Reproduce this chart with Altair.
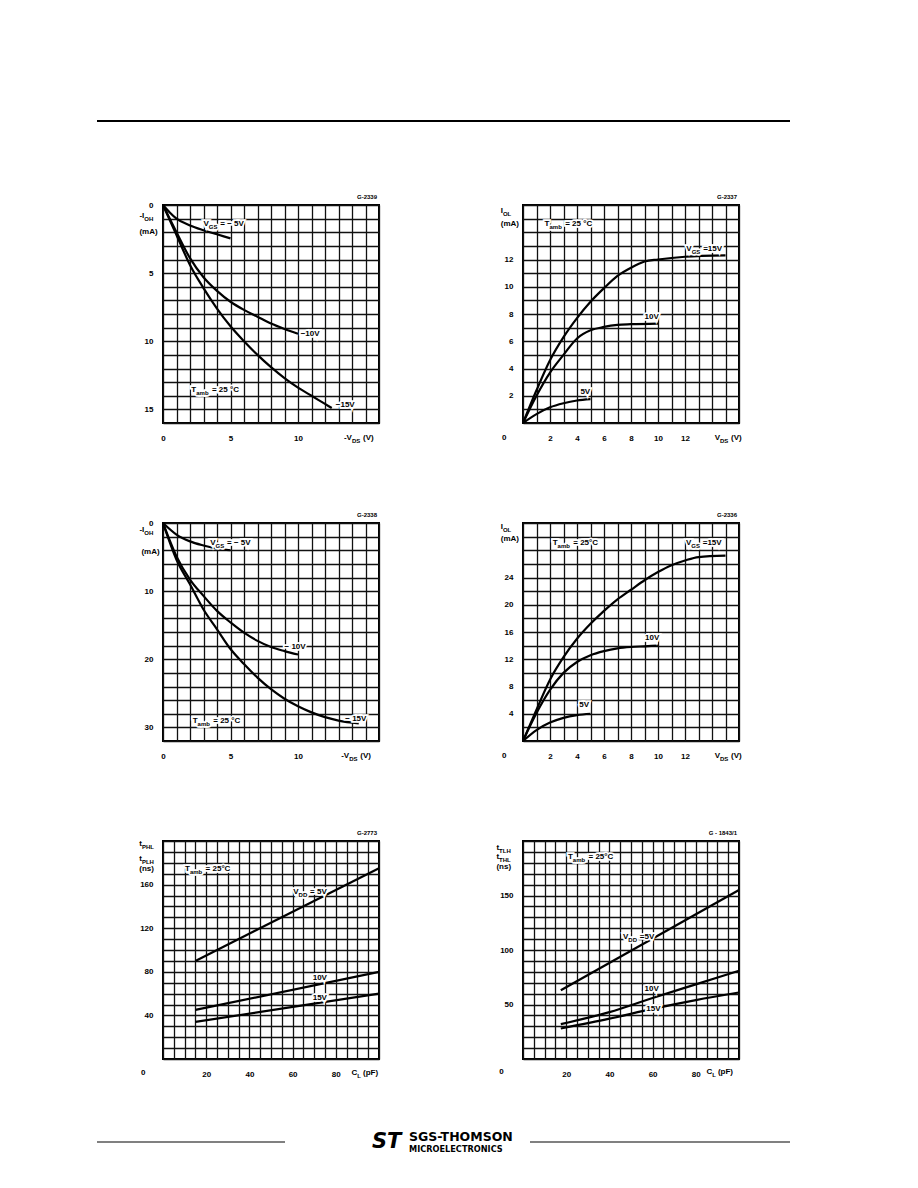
import re
import altair as alt
import pandas as pd

# ---------------- data ----------------
# Panel 1  G-2339 : -I_OH (mA) vs -V_DS (V)
p1_vds_5 = [0, 0.5, 1, 2, 3, 4, 5]
p1_ioh_5 = [0, 0.55, 1.0, 1.5, 1.85, 2.15, 2.45]
p1_vds_10 = [0, 1, 2, 3, 4, 5, 6, 7, 8, 9, 10]
p1_ioh_10 = [0, 2.0, 3.9, 5.3, 6.3, 7.1, 7.7, 8.2, 8.7, 9.1, 9.45]
p1_vds_15 = [0, 1, 2, 3, 4, 5, 6, 7, 8, 9, 10, 11, 12, 12.5]
p1_ioh_15 = [0, 2.2, 4.4, 6.1, 7.6, 8.9, 10.0, 11.0, 11.9, 12.7, 13.4, 14.0, 14.6, 14.9]

# Panel 2  G-2337 : I_OL (mA) vs V_DS (V)
p2_vds_15 = [0, 1, 2, 3, 4, 5, 6, 7, 8, 9, 10, 12, 15]
p2_iol_15 = [0, 2.4, 4.6, 6.3, 7.7, 8.9, 9.9, 10.8, 11.4, 11.85, 12.0, 12.2, 12.3]
p2_vds_10 = [0, 1, 2, 3, 4, 5, 6, 7, 8, 10]
p2_iol_10 = [0, 2.0, 3.7, 5.0, 6.2, 6.8, 7.05, 7.2, 7.25, 7.3]
p2_vds_5 = [0, 1, 2, 3, 4, 5]
p2_iol_5 = [0, 0.65, 1.15, 1.45, 1.65, 1.75]

# Panel 3  G-2338 : -I_OH (mA) vs -V_DS (V)
p3_vds_5 = [0, 1, 2, 3, 4, 5]
p3_ioh_5 = [0, 1.7, 2.7, 3.3, 3.75, 4.0]
p3_vds_10 = [0, 1, 2, 3, 4, 5, 6, 7, 8, 9, 10]
p3_ioh_10 = [0, 4.9, 8.3, 10.7, 12.9, 14.6, 16.1, 17.3, 18.2, 18.8, 19.3]
p3_vds_15 = [0, 1, 2, 3, 4, 5, 6, 7, 8, 9, 10, 11, 12, 13, 14.5]
p3_ioh_15 = [0, 5.4, 9.0, 12.7, 15.6, 18.5, 20.7, 22.7, 24.4, 25.8, 26.9, 27.8, 28.5, 29.0, 29.4]

# Panel 4  G-2336 : I_OL (mA) vs V_DS (V)
p4_vds_15 = [0, 1, 2, 3, 4, 5, 6, 7, 8, 9, 10, 11, 12, 13, 15]
p4_iol_15 = [0, 4.6, 9.0, 12.3, 15.0, 17.2, 19.1, 20.8, 22.2, 23.6, 24.8, 25.8, 26.5, 27.0, 27.2]
p4_vds_10 = [0, 1, 2, 3, 4, 5, 6, 7, 8, 9, 10]
p4_iol_10 = [0, 4.1, 7.5, 10.0, 11.6, 12.6, 13.2, 13.6, 13.8, 13.9, 14.0]
p4_vds_5 = [0, 1, 2, 3, 4, 5]
p4_iol_5 = [0, 1.6, 2.7, 3.4, 3.8, 4.0]

# Panel 5  G-2773 : t_PHL, t_PLH (ns) vs C_L (pF)
p5_cl = [15, 100]
p5_t_5 = [90, 175]
p5_t_10 = [45, 80]
p5_t_15 = [34, 60]

# Panel 6  G-1843/1 : t_TLH, t_THL (ns) vs C_L (pF)
p6_cl_5 = [17.5, 100]
p6_t_5 = [63, 155]
p6_cl = [17.5, 40, 60, 80, 100]
p6_t_10 = [32, 43, 56, 68.5, 81]
p6_t_15 = [28, 37, 46, 54, 61]

# ---------------- styling helpers ----------------
FONT = "Liberation Sans"
PW, PH = 216, 218
MAIN, SUB = 8, 6

CW = {d: 0.556 for d in "0123456789"}
CW.update({" ": 0.278, "=": 0.584, "−": 0.584, "-": 0.333, "(": 0.333, ")": 0.333,
           "°": 0.4, "/": 0.278, "V": 0.667, "G": 0.778, "S": 0.667, "T": 0.611,
           "D": 0.722, "I": 0.278, "O": 0.778, "H": 0.722, "L": 0.611, "P": 0.667,
           "C": 0.722, "a": 0.556, "m": 0.889, "b": 0.611, "n": 0.611, "s": 0.556,
           "t": 0.333, "p": 0.611, "F": 0.611, "A": 0.722})


def tw(s, size):
    return sum(CW.get(c, 0.6) for c in s) * size


def parse(label):
    parts = re.split(r"_\{([^}]*)\}", label)
    return [(p, i % 2 == 1) for i, p in enumerate(parts) if p]


def panel(curves, xdom, ydom, rev, xstep, ystep, xlabels, ylabels, notes, code, interp):
    pxx = PW / (xdom[1] - xdom[0])
    pxy = PH / (ydom[1] - ydom[0])
    down = 1 if rev else -1

    rows = []
    for name, xs, ys in curves:
        for a, b in zip(xs, ys):
            rows.append({"x": a, "y": b, "s": name})
    cdf = pd.DataFrame(rows)

    trows = []
    for (x0, y0, label, *rest) in notes:
        size0 = rest[0] if rest else MAIN
        align = rest[1] if len(rest) > 1 else "left"
        parts = parse(label)
        widths = [tw(p, SUB) * 1.15 + 1.5 if sub else tw(p, size0) for p, sub in parts]
        cur = -sum(widths) if align == "right" else (-sum(widths) / 2 if align == "center" else 0)
        for (p, sub), w in zip(parts, widths):
            trows.append({"x": x0 + cur / pxx,
                          "y": y0 + down * (3 / pxy if sub else 0),
                          "t": p, "size": SUB if sub else size0})
            cur += w
    trows.append({"x": xdom[1] - (tw(code, 6) + 2) / pxx,
                  "y": (ydom[0] - 8 / pxy) if rev else (ydom[1] + 8 / pxy),
                  "t": code, "size": 6})
    tdf = pd.DataFrame(trows)

    xs = alt.Scale(domain=xdom, nice=False, zero=False)
    ys = alt.Scale(domain=ydom, nice=False, zero=False, reverse=rev)

    def ax(values, labels, pad):
        return alt.Axis(values=values, grid=True, ticks=False, domain=False, title=None,
                        labelExpr=f"indexof({labels}, datum.value) >= 0 ? datum.label : ''",
                        labelFont=FONT, labelFontWeight="bold", labelFontSize=MAIN,
                        labelColor="black", labelPadding=pad, labelFlush=False,
                        labelOverlap=False, gridColor="#111111", gridWidth=1.3,
                        gridOpacity=1)

    xvals = [xdom[0] + i * xstep for i in range(int(round((xdom[1] - xdom[0]) / xstep)) + 1)]
    yvals = [ydom[0] + i * ystep for i in range(int(round((ydom[1] - ydom[0]) / ystep)) + 1)]
    xax = ax(xvals, xlabels, 11)
    yax = ax(yvals, ylabels, 10)

    lines = alt.Chart(cdf).mark_line(color="black", strokeWidth=2.2, interpolate=interp).encode(
        x=alt.X("x:Q", scale=xs, axis=xax),
        y=alt.Y("y:Q", scale=ys, axis=yax),
        detail="s:N",
    )
    base = alt.Chart(tdf).encode(
        x=alt.X("x:Q", scale=xs, axis=xax),
        y=alt.Y("y:Q", scale=ys, axis=yax),
        text="t:N",
        size=alt.Size("size:Q", scale=None, legend=None),
    )
    halo = base.mark_text(align="left", baseline="middle", font=FONT, fontWeight="bold",
                          color="white", stroke="white", strokeWidth=3.5)
    txt = base.mark_text(align="left", baseline="middle", font=FONT, fontWeight="bold",
                         color="black")
    return alt.layer(lines, halo, txt).properties(
        width=PW, height=PH, view=alt.ViewBackground(stroke="black", strokeWidth=2))


p1 = panel(
    [("-5", p1_vds_5, p1_ioh_5), ("-10", p1_vds_10, p1_ioh_10), ("-15", p1_vds_15, p1_ioh_15)],
    [0, 16], [0, 16], True, 1, 1, [0, 5, 10], [0, 5, 10, 15],
    [(3.0, 1.4, "V_{GS} = − 5V"), (10.2, 9.45, "−10V"), (12.8, 14.7, "−15V"),
     (2.1, 13.6, "T_{amb} = 25 °C"), (-1.75, 0.8, "-I_{OH}"), (-1.75, 2.0, "(mA)"),
     (13.4, 17.1, "-V_{DS}  (V)")],
    "G-2339", "monotone")

p2 = panel(
    [("15", p2_vds_15, p2_iol_15), ("10", p2_vds_10, p2_iol_10), ("5", p2_vds_5, p2_iol_5)],
    [0, 16], [0, 16], False, 1, 1, [2, 4, 6, 8, 10, 12], [2, 4, 6, 8, 10, 12],
    [(1.6, 14.6, "T_{amb} = 25 °C"), (12.1, 12.75, "V_{GS} =15V"), (9.0, 7.75, "10V"),
     (4.25, 2.3, "5V"), (-1.65, 15.55, "I_{OL}"), (-1.65, 14.6, "(mA)"),
     (-1.4, -1.1, "0", MAIN, "center"), (14.2, -1.1, "V_{DS} (V)")],
    "G-2337", "monotone")

p3 = panel(
    [("-5", p3_vds_5, p3_ioh_5), ("-10", p3_vds_10, p3_ioh_10), ("-15", p3_vds_15, p3_ioh_15)],
    [0, 16], [0, 32], True, 1, 2, [0, 5, 10], [0, 10, 20, 30],
    [(3.5, 3.0, "V_{GS} = − 5V"), (9.0, 18.2, "− 10V"), (13.5, 28.7, "− 15V"),
     (2.2, 29.0, "T_{amb} = 25 °C"), (-1.75, 1.0, "-I_{OH}"), (-1.6, 4.3, "(mA)"),
     (13.2, 34.2, "-V_{DS}  (V)")],
    "G-2338", "monotone")

p4 = panel(
    [("15", p4_vds_15, p4_iol_15), ("10", p4_vds_10, p4_iol_10), ("5", p4_vds_5, p4_iol_5)],
    [0, 16], [0, 32], False, 1, 2, [2, 4, 6, 8, 10, 12], [4, 8, 12, 16, 20, 24],
    [(2.2, 29.1, "T_{amb} = 25°C"), (12.07, 29.1, "V_{GS} =15V"), (9.04, 15.1, "10V"),
     (4.17, 5.3, "5V"), (-1.65, 31.4, "I_{OL}"), (-1.65, 29.65, "(mA)"),
     (-1.4, -2.2, "0", MAIN, "center"), (14.2, -2.2, "V_{DS}(V)")],
    "G-2336", "monotone")

p5 = panel(
    [("5", p5_cl, p5_t_5), ("10", p5_cl, p5_t_10), ("15", p5_cl, p5_t_15)],
    [0, 100], [0, 200], False, 5, 10, [20, 40, 60, 80], [40, 80, 120, 160],
    [(10.2, 174, "T_{amb} = 25°C"), (60.3, 153, "V_{DD}= 5V"), (69.3, 74, "10V"),
     (69.3, 56, "15V"), (-11.0, 197.2, "t_{PHL}"), (-11.0, 183.5, "t_{PLH}"),
     (-11.0, 174.3, "(ns)"), (-9.1, -13, "0", MAIN, "center"), (87.3, -13, "C_{L} (pF)")],
    "G-2773", "linear")

p6 = panel(
    [("5", p6_cl_5, p6_t_5), ("10", p6_cl, p6_t_10), ("15", p6_cl, p6_t_15)],
    [0, 100], [0, 200], False, 5, 10, [20, 40, 60, 80], [50, 100, 150],
    [(20.8, 185, "T_{amb} = 25°C"), (46.3, 111.6, "V_{DD} =5V"), (56.3, 64.2, "10V"),
     (57.1, 45.9, "15V"), (-12.3, 194, "t_{TLH}"), (-12.3, 185, "t_{THL}"),
     (-12.3, 176.4, "(ns)"), (-10.0, -12, "0", MAIN, "center"), (84.9, -12, "C_{L} (pF)")],
    "G - 1843/1", "monotone")

one = pd.DataFrame({"a": [0]})
blank = alt.ViewBackground(stroke="transparent")
GAP_ROW, GAP_COL = 100, 144


def empty():
    return alt.Chart(one).mark_point(opacity=0).encode(
        x=alt.value(0), y=alt.value(0)).properties(width=PW, height=1, view=blank)


# page header rule (84 px above the first row of panels)
header = alt.Chart(one).mark_rule(color="black", strokeWidth=2).encode(
    x=alt.value(-66), x2=alt.value(627), y=alt.value(1 + GAP_ROW - 84)
).properties(width=PW, height=1, view=blank)

# page footer (rules 83 px below the last row of panels, logo in between)
fy = 83 - GAP_ROW
f_left = alt.Chart(one).mark_rule(color="#808080", strokeWidth=2).encode(
    x=alt.value(-66), x2=alt.value(122), y=alt.value(fy))
f_right = alt.Chart(one).mark_rule(color="#808080", strokeWidth=2).encode(
    x=alt.value(367), x2=alt.value(627), y=alt.value(fy))
f_logo = alt.Chart(one).mark_text(text="ST", font="DejaVu Sans", fontWeight="bold",
                                  fontStyle="italic", fontSize=21, align="left",
                                  baseline="middle").encode(x=alt.value(209), y=alt.value(fy))
f_name = alt.Chart(one).mark_text(text="SGS-THOMSON", font="DejaVu Sans", fontWeight="bold",
                                  fontSize=12.5, align="left", baseline="middle").encode(
    x=alt.value(246), y=alt.value(fy - 5))
f_sub = alt.Chart(one).mark_text(text="MICROELECTRONICS", font="DejaVu Sans", fontWeight="bold",
                                 fontSize=8.2, align="left", baseline="middle").encode(
    x=alt.value(246), y=alt.value(fy + 8))
footer = alt.layer(f_left, f_right, f_logo, f_name, f_sub).properties(
    width=PW, height=1, view=blank)

chart = alt.concat(
    header, empty(),
    p1, p2,
    p3, p4,
    p5, p6,
    footer, empty(),
    columns=2, spacing={"row": GAP_ROW, "column": GAP_COL}, bounds="flush",
).properties(
    padding={"left": 87, "top": 92, "right": 5, "bottom": 5},
    background="white",
).configure_view(stroke="transparent")

chart.save("out.html", embed_options={"renderer": "svg", "actions": False})
